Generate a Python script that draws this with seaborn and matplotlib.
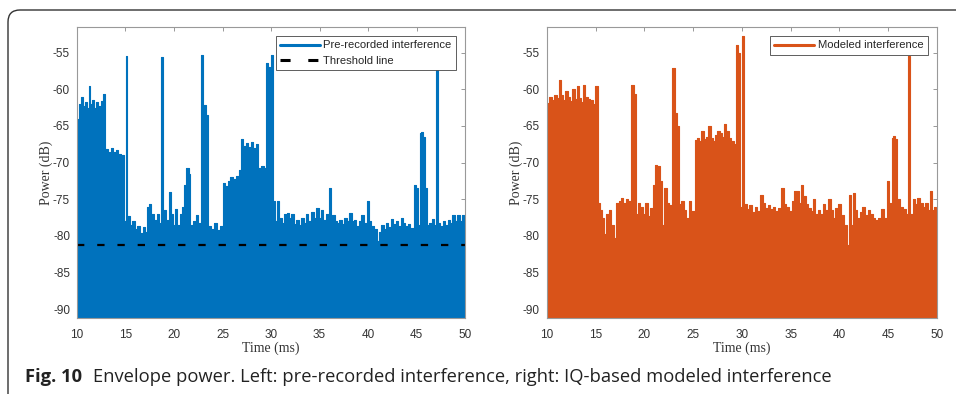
import numpy as np
import pandas as pd
import matplotlib
matplotlib.use("Agg")
import matplotlib.pyplot as plt
from matplotlib.patches import FancyBboxPatch
import seaborn as sns

# envelope: start time (ms) and level (dB)
pre_t = [10.0, 10.2, 10.4, 10.6, 10.8, 11.0, 11.2, 11.35, 11.6, 11.8, 12.0, 12.2, 12.5, 12.7,
         12.9, 13.2, 13.5, 13.75, 14.0, 14.25, 14.5, 14.8, 15.05, 15.2, 15.45, 15.7, 15.95,
         16.2, 16.5, 16.8, 17.0, 17.25, 17.45, 17.65, 17.9, 18.2, 18.45, 18.7, 18.85, 18.95,
         19.2, 19.45, 19.65, 19.9, 20.1, 20.35, 20.6, 20.8, 21.0, 21.2, 21.5, 21.7, 22.0,
         22.25, 22.5, 22.8, 22.95, 23.1, 23.3, 23.5, 23.8, 24.1, 24.4, 24.7, 25.05, 25.3,
         25.55, 25.8, 26.1, 26.4, 26.7, 26.9, 27.15, 27.4, 27.65, 27.9, 28.1, 28.3, 28.5,
         28.7, 29.0, 29.3, 29.45, 29.65, 29.85, 30.0, 30.2, 30.4, 30.65, 30.85, 31.1, 31.35,
         31.6, 31.85, 32.1, 32.35, 32.6, 32.85, 33.1, 33.35, 33.6, 33.85, 34.1, 34.4, 34.65,
         34.9, 35.15, 35.4, 35.65, 35.95, 36.15, 36.3, 36.55, 36.8, 37.05, 37.3, 37.55, 37.8,
         38.05, 38.3, 38.55, 38.8, 39.05, 39.3, 39.55, 39.9, 40.1, 40.35, 40.6, 40.9, 41.1,
         41.35, 41.6, 41.85, 42.1, 42.35, 42.6, 42.85, 43.1, 43.35, 43.6, 43.85, 44.1, 44.35,
         44.7, 44.9, 45.15, 45.35, 45.5, 45.7, 45.85, 46.05, 46.3, 46.55, 46.8, 47.05, 47.2,
         47.45, 47.7, 47.95, 48.2, 48.45, 48.7, 48.95, 49.2, 49.45, 49.65, 49.85]
pre_db = [-64.0, -62.0, -61.0, -62.3, -61.8, -62.5, -59.5, -62.0, -61.5, -62.5, -61.8, -62.3, -61.6, -60.6,
          -68.2, -68.5, -68.0, -68.6, -68.3, -68.8, -69.0, -78.0, -55.4, -77.3, -78.5, -78.0, -79.0,
          -78.6, -79.6, -78.8, -79.5, -76.0, -75.7, -77.0, -77.8, -77.0, -78.2, -55.6, -77.5, -76.5,
          -77.8, -74.0, -77.0, -78.5, -76.3, -78.5, -77.0, -76.0, -73.0, -70.8, -71.5, -78.5, -78.0,
          -77.2, -78.3, -55.3, -77.5, -62.1, -63.5, -78.6, -79.0, -78.3, -79.2, -78.6, -72.8, -73.2,
          -72.5, -72.0, -72.3, -71.8, -71.0, -66.8, -67.8, -67.3, -67.9, -67.2, -68.0, -70.7, -67.5,
          -70.7, -70.5, -70.7, -56.4, -57.0, -78.5, -55.3, -75.3, -78.0, -75.3, -77.5, -78.2, -77.0,
          -76.9, -77.6, -77.0, -78.4, -77.8, -78.5, -77.5, -78.2, -77.0, -78.0, -76.8, -77.6, -76.2,
          -77.5, -76.5, -77.8, -77.0, -73.5, -80.0, -77.2, -78.0, -78.3, -77.8, -78.4, -77.5, -78.0,
          -76.9, -78.0, -77.8, -78.6, -78.0, -77.2, -78.3, -75.3, -78.0, -78.6, -79.0, -80.7, -79.5,
          -78.5, -79.0, -78.2, -78.8, -77.7, -78.4, -78.0, -78.6, -77.6, -78.3, -78.6, -78.4, -78.9,
          -73.0, -73.5, -78.5, -66.0, -65.8, -66.5, -73.5, -78.5, -78.2, -77.7, -78.5, -57.1, -78.3,
          -78.6, -78.0, -78.5, -77.8, -78.2, -77.2, -78.0, -77.1, -78.0, -77.1, -82.6]

mod_t = [10.0, 10.25, 10.5, 10.75, 11.0, 11.25, 11.45, 11.7, 11.9, 12.15, 12.4, 12.6, 12.85, 13.05,
         13.25, 13.5, 13.75, 13.95, 14.2, 14.45, 14.7, 14.95, 15.2, 15.45, 15.7, 15.9, 16.1,
         16.35, 16.6, 16.85, 17.1, 17.35, 17.6, 17.85, 18.1, 18.35, 18.65, 18.9, 19.1, 19.35,
         19.6, 19.85, 20.1, 20.35, 20.6, 20.85, 21.05, 21.3, 21.6, 21.8, 22.05, 22.3, 22.55,
         22.85, 23.1, 23.35, 23.55, 23.8, 24.05, 24.3, 24.55, 24.8, 25.15, 25.4, 25.65, 25.85,
         26.1, 26.35, 26.55, 26.8, 27.0, 27.25, 27.5, 27.75, 28.0, 28.2, 28.4, 28.65, 28.9,
         29.15, 29.4, 29.6, 29.8, 30.05, 30.25, 30.5, 30.75, 31.0, 31.3, 31.55, 31.9, 32.15,
         32.4, 32.65, 32.9, 33.2, 33.45, 33.7, 34.05, 34.3, 34.55, 34.8, 35.1, 35.35, 35.6,
         35.85, 36.05, 36.3, 36.55, 36.8, 37.05, 37.3, 37.55, 37.8, 38.05, 38.3, 38.55, 38.85,
         39.1, 39.35, 39.6, 39.9, 40.15, 40.45, 40.8, 41.0, 41.15, 41.4, 41.6, 41.85, 42.1,
         42.35, 42.6, 42.9, 43.15, 43.4, 43.7, 44.0, 44.3, 44.55, 44.85, 45.1, 45.35, 45.55,
         45.75, 45.95, 46.2, 46.5, 46.85, 47.0, 47.2, 47.5, 47.75, 48.0, 48.3, 48.55, 48.8,
         49.05, 49.3, 49.5, 49.75, 49.9]
mod_db = [-61.9, -61.0, -61.5, -60.8, -61.2, -58.7, -60.8, -61.5, -60.2, -61.0, -61.6, -60.0, -61.3, -59.6,
          -61.2, -61.8, -59.4, -61.0, -61.3, -61.5, -62.0, -59.6, -75.5, -76.5, -77.5, -79.8, -77.0,
          -76.5, -78.5, -80.3, -75.5, -75.2, -74.8, -75.5, -75.0, -75.3, -59.4, -60.7, -77.0, -75.5,
          -76.0, -77.0, -75.5, -77.3, -76.2, -73.0, -70.3, -70.5, -72.5, -78.5, -73.5, -75.5, -75.8,
          -57.1, -63.2, -65.0, -75.7, -75.2, -76.5, -77.5, -75.2, -76.6, -66.9, -66.7, -67.0, -65.7,
          -66.8, -66.5, -65.0, -66.7, -67.0, -66.2, -65.7, -66.0, -66.5, -64.8, -65.7, -66.7, -67.0,
          -67.5, -53.9, -55.0, -76.0, -52.8, -75.7, -76.3, -75.8, -76.8, -76.0, -76.6, -74.4, -75.5,
          -76.2, -75.8, -76.4, -76.0, -76.6, -76.2, -73.5, -75.6, -76.0, -76.6, -75.3, -73.9, -73.9,
          -75.5, -73.0, -74.6, -75.7, -76.2, -76.6, -75.0, -77.0, -76.5, -77.0, -75.7, -76.5, -75.0,
          -76.5, -77.5, -76.2, -75.6, -77.2, -78.5, -81.2, -74.4, -78.5, -74.1, -76.5, -77.5, -76.8,
          -76.0, -77.2, -76.5, -77.0, -77.6, -77.8, -77.5, -76.4, -77.5, -72.5, -75.5, -66.6, -66.4,
          -66.8, -75.0, -76.0, -76.4, -77.0, -55.5, -77.0, -75.0, -75.6, -74.8, -75.5, -76.0, -75.5,
          -76.5, -73.9, -76.5, -76.0, -80.9]

t_end = 50.0
floor_db = -92.0
threshold_db = -81.2
y_ticks = [-90, -85, -80, -75, -70, -65, -60, -55]
x_ticks = [10, 15, 20, 25, 30, 35, 40, 45, 50]

blue = "#0072BD"
orange = "#D95319"

sns.set_style("white")
plt.rcParams["font.family"] = ["Liberation Sans", "DejaVu Sans"]
plt.rcParams["axes.unicode_minus"] = False

fig = plt.figure(figsize=(9.56, 3.94), dpi=100)
ax1 = fig.add_axes([0.0805, 0.193, 0.406, 0.7386])
ax2 = fig.add_axes([0.572, 0.193, 0.408, 0.7386])


def panel(ax, t, db, color, label):
    df = pd.DataFrame({"t": t + [t_end], "db": db + [db[-1]]})
    ax.fill_between(df["t"], floor_db, df["db"], step="post", color=color, lw=0)
    sns.lineplot(data=df, x="t", y="db", drawstyle="steps-post", color=color,
                 lw=0.8, ax=ax, label=label)
    ax.set_xlim(10, 50)
    ax.set_ylim(-91.2, -51.5)
    ax.set_xticks(x_ticks)
    ax.set_yticks(y_ticks)
    ax.tick_params(direction="in", top=True, right=True, length=3, width=0.6,
                   color="#888888", labelcolor="#333333", labelsize=8.5, pad=5)
    ax.tick_params(axis="x", pad=8)
    for s in ax.spines.values():
        s.set_color("#999999")
        s.set_linewidth(0.8)
    ax.set_xlabel("Time (ms)", family="Liberation Serif", fontsize=10, color="#333333", labelpad=0)
    ax.set_ylabel("Power (dB)", family="Liberation Serif", fontsize=10, color="#333333", labelpad=0)


panel(ax1, pre_t, pre_db, blue, "Pre-recorded interference")
ax1.axhline(threshold_db, color="black", lw=1.6, ls=(0, (3.3, 5.8)), label="Threshold line")
panel(ax2, mod_t, mod_db, orange, "Modeled interference")

for ax in (ax1, ax2):
    leg = ax.legend(loc="upper right", frameon=True, fancybox=False, edgecolor="#444444",
                    framealpha=1, fontsize=8.1, borderpad=0.4, handlelength=3.55,
                    handletextpad=0.3, labelspacing=0.45, borderaxespad=0.8)
    leg.get_frame().set_linewidth(0.6)
    for h in leg.get_lines():
        h.set_linewidth(2.2)

# page frame with rounded corners
frame = FancyBboxPatch((0.08, -0.5), 10.0, 4.34, boxstyle="round,pad=0,rounding_size=0.12",
                       transform=fig.dpi_scale_trans, fill=False, ec="#333333", lw=1.0)
fig.patches.append(frame)

cap1 = fig.text(25 / 956, 1 - 377 / 394, "Fig. 10", family="Open Sans", weight="bold",
                fontsize=13.2, color="#222222", va="center")
fig.canvas.draw()
bb = cap1.get_window_extent()
fig.text((bb.x1 + 11) / 956, 1 - 377 / 394,
         "Envelope power. Left: pre-recorded interference, right: IQ-based modeled interference",
         family="Open Sans", fontsize=13.2, color="#222222", va="center")

fig.savefig("out.png", dpi=100)
